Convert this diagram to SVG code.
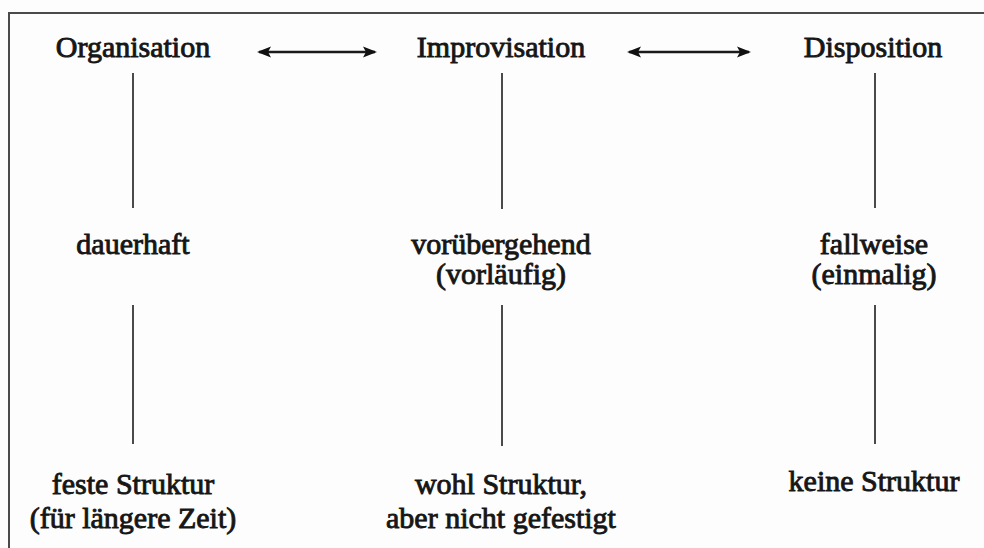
<svg xmlns="http://www.w3.org/2000/svg" width="984" height="548" viewBox="0 0 984 548">
<style>
.t{font-family:"Liberation Serif","Times New Roman",serif;font-size:30px;fill:#161616;stroke:#161616;stroke-width:0.9;text-anchor:middle}
.ln{stroke:#4a4a4a;stroke-width:2;fill:none}
.ar{stroke:#1a1a1a;stroke-width:2.4;fill:none}
</style>
<defs>
<marker id="ah" markerWidth="14" markerHeight="12" refX="12" refY="6" orient="auto-start-reverse" markerUnits="userSpaceOnUse" viewBox="0 0 14 12">
<path d="M0,0.5 L14,6 L0,11.5 L3,6 Z" fill="#111"/>
</marker>
</defs>
<rect x="0" y="0" width="984" height="548" fill="#fdfdfd"/>
<g id="frame">
<path class="ln" d="M9,548 V13 H984" stroke-width="2.5"/>
</g>
<g id="connectors">
<path class="ar" d="M259,52 H375" marker-start="url(#ah)" marker-end="url(#ah)"/>
<path class="ar" d="M629,52 H749" marker-start="url(#ah)" marker-end="url(#ah)"/>
<path class="ln" d="M133,73 V208 M133,305 V444"/>
<path class="ln" d="M502,73 V209 M502,305 V446"/>
<path class="ln" d="M875,73 V208 M875,305 V444"/>
</g>
<g id="organisation"><text class="t" x="133" y="57">Organisation</text></g>
<g id="improvisation"><text class="t" x="501" y="57">Improvisation</text></g>
<g id="disposition"><text class="t" x="873" y="57">Disposition</text></g>
<g id="dauerhaft"><text class="t" x="133" y="254">dauerhaft</text></g>
<g id="voruebergehend"><text class="t" x="501" y="254">vorübergehend</text><text class="t" x="501" y="284">(vorläufig)</text></g>
<g id="fallweise"><text class="t" x="874" y="254">fallweise</text><text class="t" x="874" y="284">(einmalig)</text></g>
<g id="feste"><text class="t" x="133" y="494">feste Struktur</text><text class="t" x="133" y="528">(für längere Zeit)</text></g>
<g id="wohl"><text class="t" x="501" y="494">wohl Struktur,</text><text class="t" x="501" y="528">aber nicht gefestigt</text></g>
<g id="keine"><text class="t" x="874" y="491">keine Struktur</text></g>
</svg>
